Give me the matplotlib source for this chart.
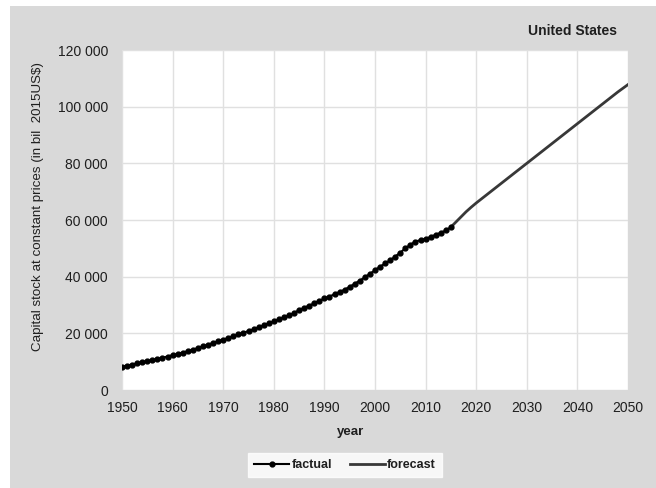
import numpy as np
import matplotlib
matplotlib.use("Agg")
import matplotlib.pyplot as plt
from matplotlib.patches import Rectangle

plt.rcParams['font.family'] = ['Liberation Sans', 'DejaVu Sans']

# capital stock, bil 2015US$
years_fact = list(range(1950, 2016))
factual = [8200, 8600, 9000, 9400, 9800, 10200, 10600, 11000, 11400, 11800,
           12300, 12700, 13200, 13700, 14200, 14800, 15400, 16000, 16600, 17200,
           17800, 18300, 19000, 19600, 20200, 20800, 21400, 22100, 22800, 23500,
           24200, 24900, 25600, 26300, 27200, 28200, 29000, 29800, 30600, 31500,
           32300, 33000, 33800, 34600, 35400, 36400, 37500, 38600, 39800, 41000,
           42300, 43500, 44700, 45800, 47100, 48500, 50000, 51300, 52400, 52900,
           53400, 54000, 54800, 55500, 56300, 57500]

years_fc = list(range(2015, 2051))
forecast = [57500, 59300, 61100, 62900, 64500, 66000, 67400, 68800, 70200, 71600,
            73000, 74400, 75800, 77200, 78600, 80000, 81400, 82800, 84200, 85600,
            87000, 88400, 89800, 91200, 92600, 94000, 95400, 96800, 98200, 99600,
            101000, 102400, 103800, 105200, 106500, 107800]

xticks = [1950, 1960, 1970, 1980, 1990, 2000, 2010, 2020, 2030, 2040, 2050]
yticks = [0, 20000, 40000, 60000, 80000, 100000, 120000]

fig = plt.figure(figsize=(6.56, 4.88), dpi=100)
fig.patch.set_facecolor('white')
bg = Rectangle((10/656, 0), 1 - 10/656, 1 - 6/488, transform=fig.transFigure,
               facecolor='#d9d9d9', edgecolor='none', zorder=-10)
fig.patches.append(bg)

ax = fig.add_axes([122/656, 1 - 390/488, (628 - 122)/656, (390 - 50)/488])
ax.set_facecolor('white')

ax.plot(years_fact, factual, color='black', lw=1.5, marker='o', ms=3.5,
        label='factual', zorder=3)
ax.plot(years_fc, forecast, color='#383838', lw=2.0, label='forecast', zorder=2)

ax.set_xlim(1950, 2050)
ax.set_ylim(0, 120000)
ax.set_xticks(xticks)
ax.set_yticks(yticks)
ax.set_yticklabels(['{:,}'.format(v).replace(',', ' ') for v in yticks])
ax.grid(True, color='#e0e0e0', lw=1)
ax.set_axisbelow(True)
for s in ax.spines.values():
    s.set_visible(False)
ax.tick_params(length=0, labelsize=10, labelcolor='#1f1f1f')
ax.tick_params(axis='y', pad=10)
ax.tick_params(axis='x', pad=8)

fig.text(38/656, 1 - 206/488, 'Capital stock at constant prices (in bil  2015US$)',
         rotation=90, ha='center', va='center', fontsize=9.6, color='#1f1f1f')
fig.text(351/656, 1 - 432/488, 'year', ha='center', va='center', fontsize=9.5,
         fontweight='bold', color='#1f1f1f')
fig.text(617/656, 1 - 31/488, 'United States', ha='right', va='center', fontsize=10,
         fontweight='bold', color='#1f1f1f')

leg = fig.legend(loc='center', bbox_to_anchor=(345/656, 1 - 465/488), ncol=2,
                 fontsize=9, frameon=True, fancybox=False, handlelength=2.8,
                 handletextpad=0.2, columnspacing=1.4, borderpad=0.5,
                 borderaxespad=0)
leg.get_frame().set_edgecolor('white')
leg.get_frame().set_facecolor('white')
for t in leg.get_texts():
    t.set_fontweight('bold')
    t.set_color('#1f1f1f')

fig.savefig('out.png', dpi=100, facecolor=fig.get_facecolor())
